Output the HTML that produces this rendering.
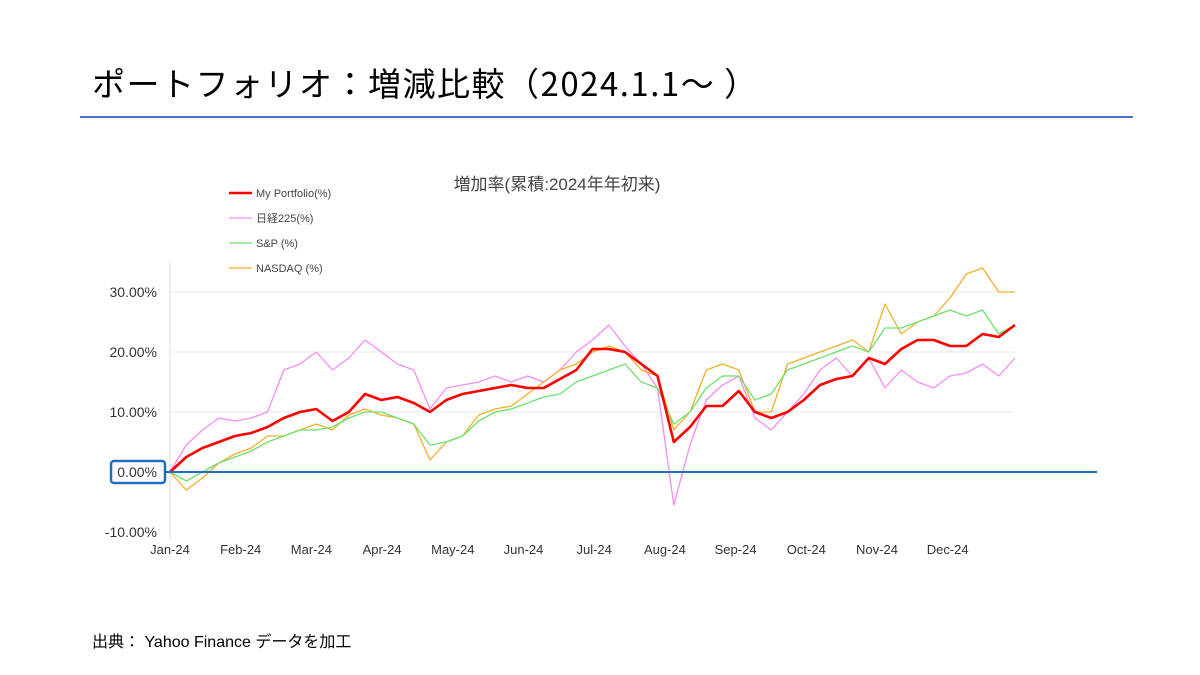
<!DOCTYPE html>
<html><head><meta charset="utf-8"><style>
body{margin:0;width:1200px;height:675px;background:#fff;overflow:hidden;font-family:"Liberation Sans","Noto Sans CJK JP",sans-serif;}
</style></head><body>
<div style="position:absolute;left:92px;top:58px;font-size:33px;letter-spacing:1.5px;color:#000;font-family:'Noto Sans CJK JP',sans-serif;">ポートフォリオ：増減比較（2024.1.1～ ）</div>
<div style="position:absolute;left:80px;top:116px;width:1053px;height:2px;background:#4472c4;"></div>
<div style="position:absolute;left:92px;top:628px;font-size:16px;color:#000;">出典： Yahoo Finance データを加工</div>
<svg id="chart" width="1200" height="675" style="position:absolute;left:0;top:0"></svg>
<script>
const weeks=[0,1,2,3,4,5,6,7,8,9,10,11,12,13,14,15,16,17,18,19,20,21,22,23,24,25,26,27,28,29,30,31,32,33,34,35,36,37,38,39,40,41,42,43,44,45,46,47,48,49,50,51,52];
const portfolio=[0,2.5,4,5,6,6.5,7.5,9,10,10.5,8.5,10,13,12,12.5,11.5,10,12,13,13.5,14,14.5,14,14,15.5,17,20.5,20.5,20,18,16,5,7.5,11,11,13.5,10,9,10,12,14.5,15.5,16,19,18,20.5,22,22,21,21,23,22.5,24.5];
const nikkei=[0,4.5,7,9,8.5,9,10,17,18,20,17,19,22,20,18,17,10.5,14,14.5,15,16,15,16,15,17,20,22,24.5,21,18,14,-5.5,4.5,12,14.5,16,9,7,10,13,17,19,16,19,14,17,15,14,16,16.5,18,16,19];
const sp=[0,-1.5,0,1.5,2.5,3.5,5,6,7,7,7.5,9,10,10,9,8,4.5,5,6,8.5,10,10.5,11.5,12.5,13,15,16,17,18,15,14,8,10,14,16,16,12,13,17,18,19,20,21,20,24,24,25,26,27,26,27,23,24.5];
const nasdaq=[0,-3,-1,1.5,3,4,6,6,7,8,7,9.5,10.5,9.5,9,8,2,5,6,9.5,10.5,11,13,15,17,18,20,21,20,17,16,7,10,17,18,17,10,10,18,19,20,21,22,20,28,23,25,26,29,33,34,30,30];
const yTicks=[30,20,10,0,-10];
const yTickLabels=["30.00%","20.00%","10.00%","0.00%","-10.00%"];
const months=["Jan-24","Feb-24","Mar-24","Apr-24","May-24","Jun-24","Jul-24","Aug-24","Sep-24","Oct-24","Nov-24","Dec-24"];
const svg=document.getElementById('chart');const NS='http://www.w3.org/2000/svg';
const X0=170,X1=1015,Y0=472,PX=6;
const xw=w=>X0+(X1-X0)*w/52;
const yv=v=>Y0-v*PX;
const xm=i=>X0+i*70.7;
function mk(t,a,txt){const e=document.createElementNS(NS,t);for(const k in a)e.setAttribute(k,a[k]);if(txt!==undefined)e.textContent=txt;svg.appendChild(e);return e;}
yTicks.forEach((v,i)=>{
 if(v!==0&&v!==-10){const g=mk('line',{x1:X0,x2:X1,y1:yv(v),y2:yv(v),stroke:'#eaeaea','stroke-width':1});
 
 }
 const t=mk('text',{x:157,y:yv(v)+5,'text-anchor':'end','font-size':14,fill:'#333'},yTickLabels[i]);
 
 
});
const ax=mk('line',{x1:X0,x2:X0,y1:262,y2:540,stroke:'#ddd','stroke-width':1});


months.forEach((m,i)=>{const t=mk('text',{x:xm(i),y:554,'text-anchor':'middle','font-size':13,fill:'#333'},m);
 
 });
const series=[[nikkei,'#f58cf5',1.3,'nikkei-line'],[nasdaq,'#f2b02a',1.3,'nasdaq-line'],[sp,'#6ee06e',1.3,'sp500-line'],[portfolio,'#ff0000',2.6,'portfolio-line']];
series.forEach(s=>{const d=s[0].map((v,i)=>(i?'L':'M')+xw(weeks[i]).toFixed(1)+' '+yv(v).toFixed(1)).join(' ');
 const p=mk('path',{d:d,fill:'none',stroke:s[1],'stroke-width':s[2],'stroke-linejoin':'round'});
 
 });
const z=mk('line',{x1:165,x2:1097,y1:Y0,y2:Y0,stroke:'#1f6fbf','stroke-width':2});


const bx=mk('rect',{x:111,y:461,width:54,height:22,rx:3,fill:'none',stroke:'#1f6fbf','stroke-width':2.5});


const ct=mk('text',{x:557,y:190,'text-anchor':'middle','font-size':17,fill:'#444'},'増加率(累積:2024年年初来)');


const leg=[['My Portfolio(%)','#ff0000',2.6],['日経225(%)','#f58cf5',1.3],['S&P (%)','#6ee06e',1.3],['NASDAQ (%)','#f2b02a',1.3]];
leg.forEach((l,i)=>{const y=193+i*25;
 const ln=mk('line',{x1:229,x2:252,y1:y,y2:y,stroke:l[1],'stroke-width':l[2]});
 
 
 const t=mk('text',{x:256,y:y+4,'font-size':11,fill:'#444'},l[0]);
 
 });
</script>
</body></html>
